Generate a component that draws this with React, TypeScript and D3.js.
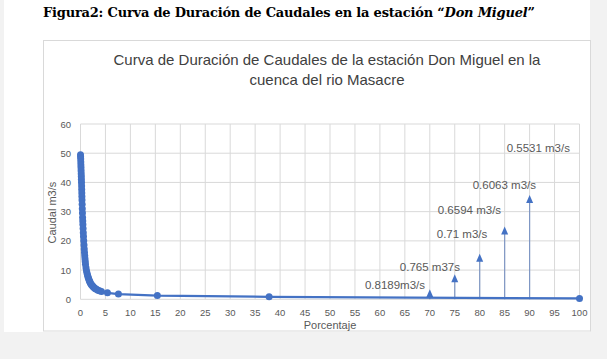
import * as d3 from "d3";

// flow duration curve (dense at the steep start)
const percent = [
  0, 0.02, 0.04, 0.06, 0.08, 0.1, 0.12, 0.14, 0.16, 0.18, 0.2, 0.22, 0.24,
  0.26, 0.28, 0.3, 0.33, 0.36, 0.39, 0.42, 0.45, 0.48, 0.52, 0.56, 0.6, 0.65,
  0.7, 0.75, 0.8, 0.85, 0.9, 0.95, 1.0, 1.1, 1.2, 1.3, 1.4, 1.5, 1.6, 1.7, 1.8,
  1.9, 2.0, 2.15, 2.3, 2.45, 2.6, 2.8, 3.0, 3.2, 3.5, 3.8, 4.2, 5.4, 7.6, 15.4,
  37.8, 100,
];
const caudal = [
  49.5, 48.8, 48, 47, 46, 45, 44, 43, 42, 41, 40, 38.8, 37.6, 36.4, 35.2, 34,
  32.5, 31, 29.5, 28, 26.8, 25.6, 24.2, 22.8, 21.5, 20, 18.6, 17.2, 16, 14.9,
  13.9, 12.9, 12, 10.8, 9.8, 9, 8.3, 7.7, 7.2, 6.7, 6.3, 5.9, 5.5, 5.1, 4.8,
  4.5, 4.2, 3.9, 3.6, 3.4, 3.1, 2.9, 2.7, 2.2, 1.8, 1.3, 0.85, 0.3,
];

// annotation arrows
const arrowX = [70, 75, 80, 85, 90];
const arrowTop = [3.4, 8.6, 15.6, 24.9, 35.7];

const labelText = [
  "0.8189m3/s",
  "0.765 m37s",
  "0.71 m3/s",
  "0.6594 m3/s",
  "0.6063 m3/s",
  "0.5531 m3/s",
];
const labelX = [57, 64, 71.4, 71.6, 78.6, 85.4];
const labelY = [4.9, 11.1, 22.4, 30.6, 39.2, 51.9];

const xTicks = d3.range(0, 101, 5);
const yTicks = [0, 10, 20, 30, 40, 50, 60];

const width = 607;
const height = 359;
const blue = "#4472C4";
const grey = "#595959";
const font = "'Liberation Sans', Arial, sans-serif";

export default function App() {
  const x = d3.scaleLinear([0, 100], [80.5, 579.5]);
  const y = d3.scaleLinear([0, 60], [299.3, 124]);

  const pts = percent.map((p, i) => [p, caudal[i]] as [number, number]);
  const line = d3
    .line<[number, number]>()
    .x((d) => x(d[0]))
    .y((d) => y(d[1]));

  return (
    <svg
      width={width}
      height={height}
      style={{ position: "absolute", left: 0, top: 0 }}
    >
      <rect width={width} height={height} fill="#f2f2f2" />
      <rect x={4} y={0} width={586} height={332} fill="#fff" />
      <text
        x={43}
        y={17}
        fontFamily="'DejaVu Serif', serif"
        fontWeight="bold"
        fontSize={13}
        textLength={492}
        fill="#000"
      >
        Figura2: Curva de Duración de Caudales en la estación “
        <tspan fontStyle="italic">Don Miguel</tspan>”
      </text>
      <rect
        x={43.5}
        y={40.5}
        width={547}
        height={290.5}
        fill="#fff"
        stroke="#d9d9d9"
      />
      <g fontFamily={font} fill="#404040" fontSize={15} textAnchor="middle">
        <text x={327} y={65}>
          Curva de Duración de Caudales de la estación Don Miguel en la
        </text>
        <text x={327} y={85}>
          cuenca del rio Masacre
        </text>
      </g>

      {/* grid */}
      <g stroke="#d9d9d9" strokeWidth={1}>
        {xTicks.map((t) => (
          <line key={"vx" + t} x1={x(t)} x2={x(t)} y1={y(60)} y2={y(0)} />
        ))}
        {yTicks.map((t) => (
          <line key={"hy" + t} x1={x(0)} x2={x(100)} y1={y(t)} y2={y(t)} />
        ))}
      </g>

      {/* ticks */}
      <g fontFamily={font} fontSize={9.5} fill={grey}>
        {yTicks.map((t) => (
          <text key={"yt" + t} x={71} y={y(t) + 3.5} textAnchor="end">
            {t}
          </text>
        ))}
        {xTicks.map((t) => (
          <text key={"xt" + t} x={x(t)} y={316} textAnchor="middle">
            {t}
          </text>
        ))}
      </g>
      <text
        x={330}
        y={329}
        textAnchor="middle"
        fontFamily={font}
        fontSize={11}
        fill={grey}
      >
        Porcentaje
      </text>
      <text
        transform={`translate(56,${y(30) + 1}) rotate(-90)`}
        textAnchor="middle"
        fontFamily={font}
        fontSize={11}
        fill={grey}
      >
        Caudal  m3/s
      </text>

      {/* arrows */}
      <g>
        {arrowX.map((a, i) => (
          <g key={"ar" + a}>
            <line
              x1={x(a)}
              x2={x(a)}
              y1={y(0)}
              y2={y(arrowTop[i]) + 4}
              stroke="#7f97c4"
              strokeWidth={1.2}
            />
            <path
              d={`M${x(a)},${y(arrowTop[i])} l3.5,8 l-7,0 Z`}
              fill={blue}
            />
          </g>
        ))}
      </g>

      {/* curve */}
      <path d={line(pts) as string} fill="none" stroke={blue} strokeWidth={2.25} />
      <g fill={blue}>
        {pts.map((d, i) => (
          <circle key={i} cx={x(d[0])} cy={y(d[1])} r={3.5} />
        ))}
      </g>

      {/* labels */}
      <g fontFamily={font} fontSize={11.5} fill={grey}>
        {labelText.map((t, i) => (
          <text key={t} x={x(labelX[i])} y={y(labelY[i]) + 4}>
            {t}
          </text>
        ))}
      </g>
    </svg>
  );
}
